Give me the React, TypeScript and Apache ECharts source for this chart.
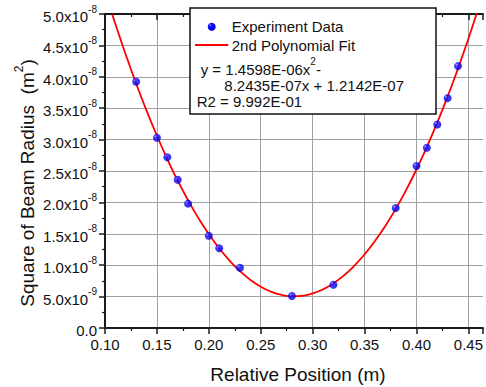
import React, { useEffect, useRef } from "react";
import * as echarts from "echarts";

// Experiment data (m, m^2)
const xData = [0.13, 0.15, 0.16, 0.17, 0.18, 0.2, 0.21, 0.23, 0.28, 0.32, 0.38, 0.4, 0.41, 0.42, 0.43, 0.44];
const yData = [
  3.92e-8, 3.03e-8, 2.72e-8, 2.36e-8, 1.98e-8, 1.47e-8, 1.27e-8, 0.96e-8,
  0.51e-8, 0.69e-8, 1.91e-8, 2.58e-8, 2.87e-8, 3.24e-8, 3.66e-8, 4.17e-8,
];

// 2nd polynomial fit curve (points along the fitted curve)
const fitX = [
  0.107, 0.11, 0.12, 0.13, 0.14, 0.15, 0.16, 0.17, 0.18, 0.19, 0.2, 0.21, 0.22, 0.23, 0.24, 0.25,
  0.26, 0.27, 0.28, 0.29, 0.3, 0.31, 0.32, 0.33, 0.34, 0.35, 0.36, 0.37, 0.38, 0.39, 0.4, 0.41,
  0.42, 0.43, 0.44, 0.45, 0.455, 0.46,
];
const fitY = [
  4.993e-8, 4.8405e-8, 4.3519e-8, 3.892e-8, 3.4623e-8, 3.0613e-8, 2.6895e-8, 2.3468e-8, 2.0335e-8,
  1.7492e-8, 1.4942e-8, 1.2683e-8, 1.0717e-8, 0.9042e-8, 0.766e-8, 0.657e-8, 0.5771e-8, 0.5264e-8,
  0.505e-8, 0.5127e-8, 0.5497e-8, 0.6158e-8, 0.7112e-8, 0.8356e-8, 0.9894e-8, 1.1723e-8, 1.3844e-8,
  1.6257e-8, 1.8962e-8, 2.1959e-8, 2.5248e-8, 2.8828e-8, 3.2702e-8, 3.6866e-8, 4.1323e-8, 4.6072e-8,
  4.8556e-8, 5.1113e-8,
];

// Tick labels
const xTickLabels = ["0.10", "0.15", "0.20", "0.25", "0.30", "0.35", "0.40", "0.45"];
const yTickMantissa = ["0.0", "5.0", "1.0", "1.5", "2.0", "2.5", "3.0", "3.5", "4.0", "4.5", "5.0"];
const yTickExponent = ["", "-9", "-8", "-8", "-8", "-8", "-8", "-8", "-8", "-8", "-8"];

// Legend texts
const legendSeries = ["Experiment Data", "2nd Polynomial Fit"];
const fitEquation1 = ["y = 1.4598E-06x", "2", "-"];
const fitEquation2 = "8.2435E-07x + 1.2142E-07";
const fitR2 = "R2 = 9.992E-01";

const FONT = '"Liberation Sans", Arial, sans-serif';

export default function App() {
  const ref = useRef<HTMLDivElement>(null);

  useEffect(() => {
    if (!ref.current) return;
    const chart = echarts.init(ref.current, null, { renderer: "svg" });

    const ball = () =>
      new echarts.graphic.RadialGradient(0.32, 0.32, 0.8, [
        { offset: 0, color: "#9aa0ff" },
        { offset: 0.22, color: "#1010ff" },
        { offset: 0.8, color: "#0000e6" },
        { offset: 1, color: "#0000b4" },
      ]);

    const axisLineStyle = { color: "#1a1a1a", width: 2 };

    const option: any = {
      animation: false,
      backgroundColor: "#ffffff",
      textStyle: { fontFamily: FONT },
      grid: { left: 105, right: 0, top: 14, bottom: 59, containLabel: false },
      xAxis: [
        {
          type: "value",
          position: "bottom",
          min: 0.1,
          max: 0.464,
          interval: 0.05,
          axisLine: { show: true, onZero: false, lineStyle: axisLineStyle },
          axisTick: { show: true, length: 6, lineStyle: { color: "#1a1a1a", width: 1.5 } },
          minorTick: { show: true, splitNumber: 2, length: 3, lineStyle: { color: "#1a1a1a", width: 1.2 } },
          splitLine: { show: true, showMaxLine: false, lineStyle: { color: "#a0a0a0", width: 1 } },
          axisLabel: {
            show: true,
            margin: 9,
            fontSize: 15,
            fontFamily: FONT,
            color: "#111",
            showMaxLabel: false,
            formatter: (v: number) => {
              const i = Math.round((v - 0.1) / 0.05);
              return Math.abs(v - (0.1 + i * 0.05)) < 1e-6 ? xTickLabels[i] ?? "" : "";
            },
          },
        },
        {
          type: "value",
          position: "top",
          min: 0.1,
          max: 0.464,
          interval: 0.05,
          axisLine: { show: true, onZero: false, lineStyle: axisLineStyle },
          axisTick: { show: true, inside: true, length: 6, lineStyle: { color: "#1a1a1a", width: 1.5 } },
          minorTick: { show: true, splitNumber: 2, length: 3, lineStyle: { color: "#1a1a1a", width: 1.2 } },
          splitLine: { show: false },
          axisLabel: { show: false },
        },
      ],
      yAxis: {
        type: "value",
        min: 0,
        max: 5e-8,
        interval: 5e-9,
        axisLine: { show: true, onZero: false, lineStyle: axisLineStyle },
        axisTick: { show: true, length: 6, lineStyle: { color: "#1a1a1a", width: 1.5 } },
        minorTick: { show: true, splitNumber: 2, length: 3, lineStyle: { color: "#1a1a1a", width: 1.2 } },
        splitLine: { show: true, lineStyle: { color: "#a0a0a0", width: 1 } },
        axisLabel: {
          show: true,
          margin: 8,
          fontFamily: FONT,
          formatter: (v: number) => {
            const i = Math.round(v / 5e-9);
            const m = yTickMantissa[i] ?? "";
            const e = yTickExponent[i] ?? "";
            return e ? `{m|${m}x10}{s|${e}}` : `{m|${m}}`;
          },
          rich: {
            m: { fontSize: 15, color: "#111", fontFamily: FONT, lineHeight: 20, verticalAlign: "bottom" },
            s: { fontSize: 10, color: "#111", fontFamily: FONT, lineHeight: 20, verticalAlign: "top" },
          },
        },
      },
      series: [
        {
          name: legendSeries[1],
          type: "line",
          data: fitX.map((x, i) => [x, fitY[i]]),
          showSymbol: false,
          smooth: true,
          clip: true,
          lineStyle: { color: "#ff0000", width: 1.8 },
          z: 2,
        },
        {
          name: legendSeries[0],
          type: "scatter",
          data: xData.map((x, i) => [x, yData[i]]),
          symbol: "circle",
          symbolSize: 8,
          itemStyle: { color: ball() },
          z: 3,
        },
      ],
      graphic: [
        {
          type: "text",
          x: 25,
          y: 183,
          rotation: Math.PI / 2,
          style: {
            text: "{n|Square of Beam Radius  (m}{s|2}{n|)}",
            align: "center",
            verticalAlign: "middle",
            rich: {
              n: { fontSize: 19, fontFamily: FONT, fill: "#111", lineHeight: 24, verticalAlign: "bottom" },
              s: { fontSize: 12, fontFamily: FONT, fill: "#111", lineHeight: 24, verticalAlign: "top" },
            },
          },
        },
        {
          type: "text",
          x: 298,
          y: 374,
          style: {
            text: "Relative Position (m)",
            align: "center",
            verticalAlign: "middle",
            font: `19px ${FONT}`,
            fill: "#111",
          },
        },
        {
          type: "group",
          z: 100,
          children: [
            {
              type: "rect",
              z: 100,
              shape: { x: 190, y: 8, width: 246, height: 106 },
              style: { fill: "#ffffff", stroke: "#111", lineWidth: 1.5 },
            },
            {
              type: "circle",
              z: 101,
              shape: { cx: 211.7, cy: 26.7, r: 4 },
              style: { fill: ball() },
            },
            {
              type: "text",
              z: 101,
              x: 231.7,
              y: 26.7,
              style: { text: legendSeries[0], font: `15px ${FONT}`, fill: "#111", verticalAlign: "middle" },
            },
            {
              type: "line",
              z: 101,
              shape: { x1: 195, y1: 45, x2: 228.3, y2: 45 },
              style: { stroke: "#ff0000", lineWidth: 1.8 },
            },
            {
              type: "text",
              z: 101,
              x: 231.7,
              y: 45,
              style: { text: legendSeries[1], font: `15px ${FONT}`, fill: "#111", verticalAlign: "middle" },
            },
            {
              type: "text",
              z: 101,
              x: 200.7,
              y: 66.7,
              style: {
                text: `{n|${fitEquation1[0]}}{s|${fitEquation1[1]}}{n|${fitEquation1[2]}}`,
                verticalAlign: "middle",
                rich: {
                  n: { fontSize: 15, fontFamily: FONT, fill: "#111", lineHeight: 20, verticalAlign: "bottom" },
                  s: { fontSize: 10, fontFamily: FONT, fill: "#111", lineHeight: 20, verticalAlign: "top" },
                },
              },
            },
            {
              type: "text",
              z: 101,
              x: 224.3,
              y: 85,
              style: { text: fitEquation2, font: `15px ${FONT}`, fill: "#111", verticalAlign: "middle" },
            },
            {
              type: "text",
              z: 101,
              x: 196.7,
              y: 101.7,
              style: { text: fitR2, font: `15px ${FONT}`, fill: "#111", verticalAlign: "middle" },
            },
          ],
        },
      ],
    };

    chart.setOption(option);
    return () => chart.dispose();
  }, []);

  return (
    <div
      ref={ref}
      style={{ position: "absolute", left: 0, top: 0, width: 486, height: 387, background: "#fff" }}
    />
  );
}
